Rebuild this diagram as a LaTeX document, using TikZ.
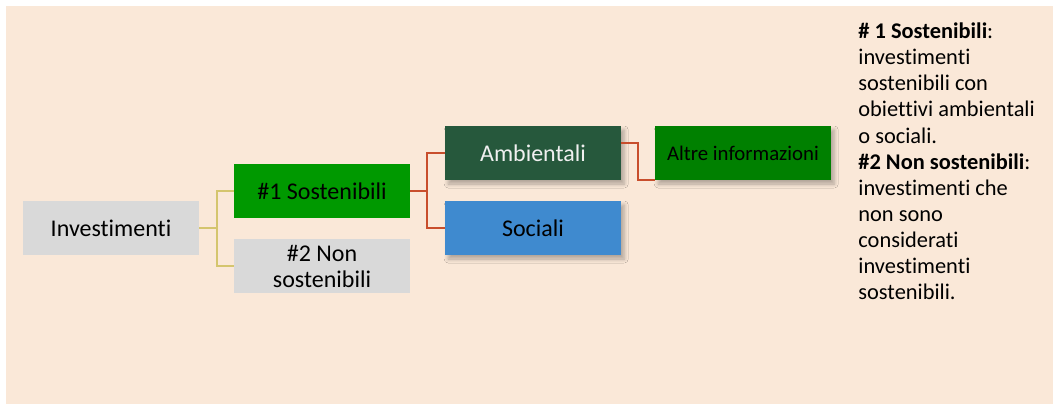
\documentclass[tikz,border=0pt]{standalone}
\usepackage{fontspec}
\setmainfont{Carlito}[Ligatures=NoCommon]
\usepackage{tikz}
\usetikzlibrary{shadows.blur}
\definecolor{sfondo}{RGB}{250,232,216}
\definecolor{grigio}{RGB}{217,217,217}
\definecolor{verde}{RGB}{0,153,0}
\definecolor{verdescuro}{RGB}{38,88,60}
\definecolor{verdealtre}{RGB}{0,128,0}
\definecolor{blu}{RGB}{63,138,207}
\definecolor{giallo}{RGB}{212,197,110}
\definecolor{rosso}{RGB}{200,78,44}
\tikzset{
    every node/.style={minimum width=88pt, minimum height=27pt,
    	inner sep=0pt, align=center, font=\fontsize{12}{13}\selectfont}
}
\tikzset{
    ombra/.style={blur shadow={shadow xshift=1.6pt, shadow yshift=-2pt,
    	shadow blur radius=2pt, shadow blur steps=6, shadow opacity=30}}
}
\tikzset{
    ramo1/.style={draw=giallo, line width=0.8pt},
    ramo2/.style={draw=rosso, line width=1pt}
}

\begin{document}
\begin{tikzpicture}[x=0.5pt, y=-0.5pt]
  \useasboundingbox (0,0) rectangle (1058,406);
  \fill[sfondo] (6,6) rectangle (1053,404);

  \node (inv) [fill=grigio] at (111,228) {Investimenti};
  \node (sost) [fill=verde] at (322,191) {\#1 Sostenibili};
  \node (nonsost) [fill=grigio, font=\fontsize{12}{13}\selectfont]
    at (322,266) {\#2 Non\\sostenibili};
  \node (amb) [fill=verdescuro, text=white!94!black, ombra] at (533,153) {Ambientali};
  \node (soc) [fill=blu, ombra] at (533,228) {Sociali};
  \node (altre) [fill=verdealtre, ombra, font=\fontsize{10.4}{12}\selectfont]
    at (743,153) {Altre informazioni};

  \coordinate (k1) at (216.7,0);
  \coordinate (k2) at (426.7,0);
  \coordinate (k3) at (637.7,0);

  \draw[ramo1] (inv.east) -- (inv.east -| k1) |- (sost.west);
  \draw[ramo1] (inv.east -| k1) |- (nonsost.west);
  \draw[ramo2] (sost.east) -- (sost.east -| k2) |- (amb.west);
  \draw[ramo2] (sost.east -| k2) |- (soc.west);
  \draw[ramo2] ([yshift=5pt]amb.east) -| ([yshift=0.4pt]k3 |- altre.south)
    -- ([yshift=0.4pt]altre.south west);

  \node (legenda) [minimum width=0pt, minimum height=0pt, anchor=north west,
    align=left, font=\fontsize{11.2}{13.05}\selectfont]
    at (858,22.5) {\textbf{\# 1 Sostenibili}:\\investimenti\\sostenibili con\\
    obiettivi ambientali\\o sociali.\\\textbf{\#2 Non sostenibili}:\\
    investimenti che\\non sono\\considerati\\investimenti\\sostenibili.};
\end{tikzpicture}
\end{document}
